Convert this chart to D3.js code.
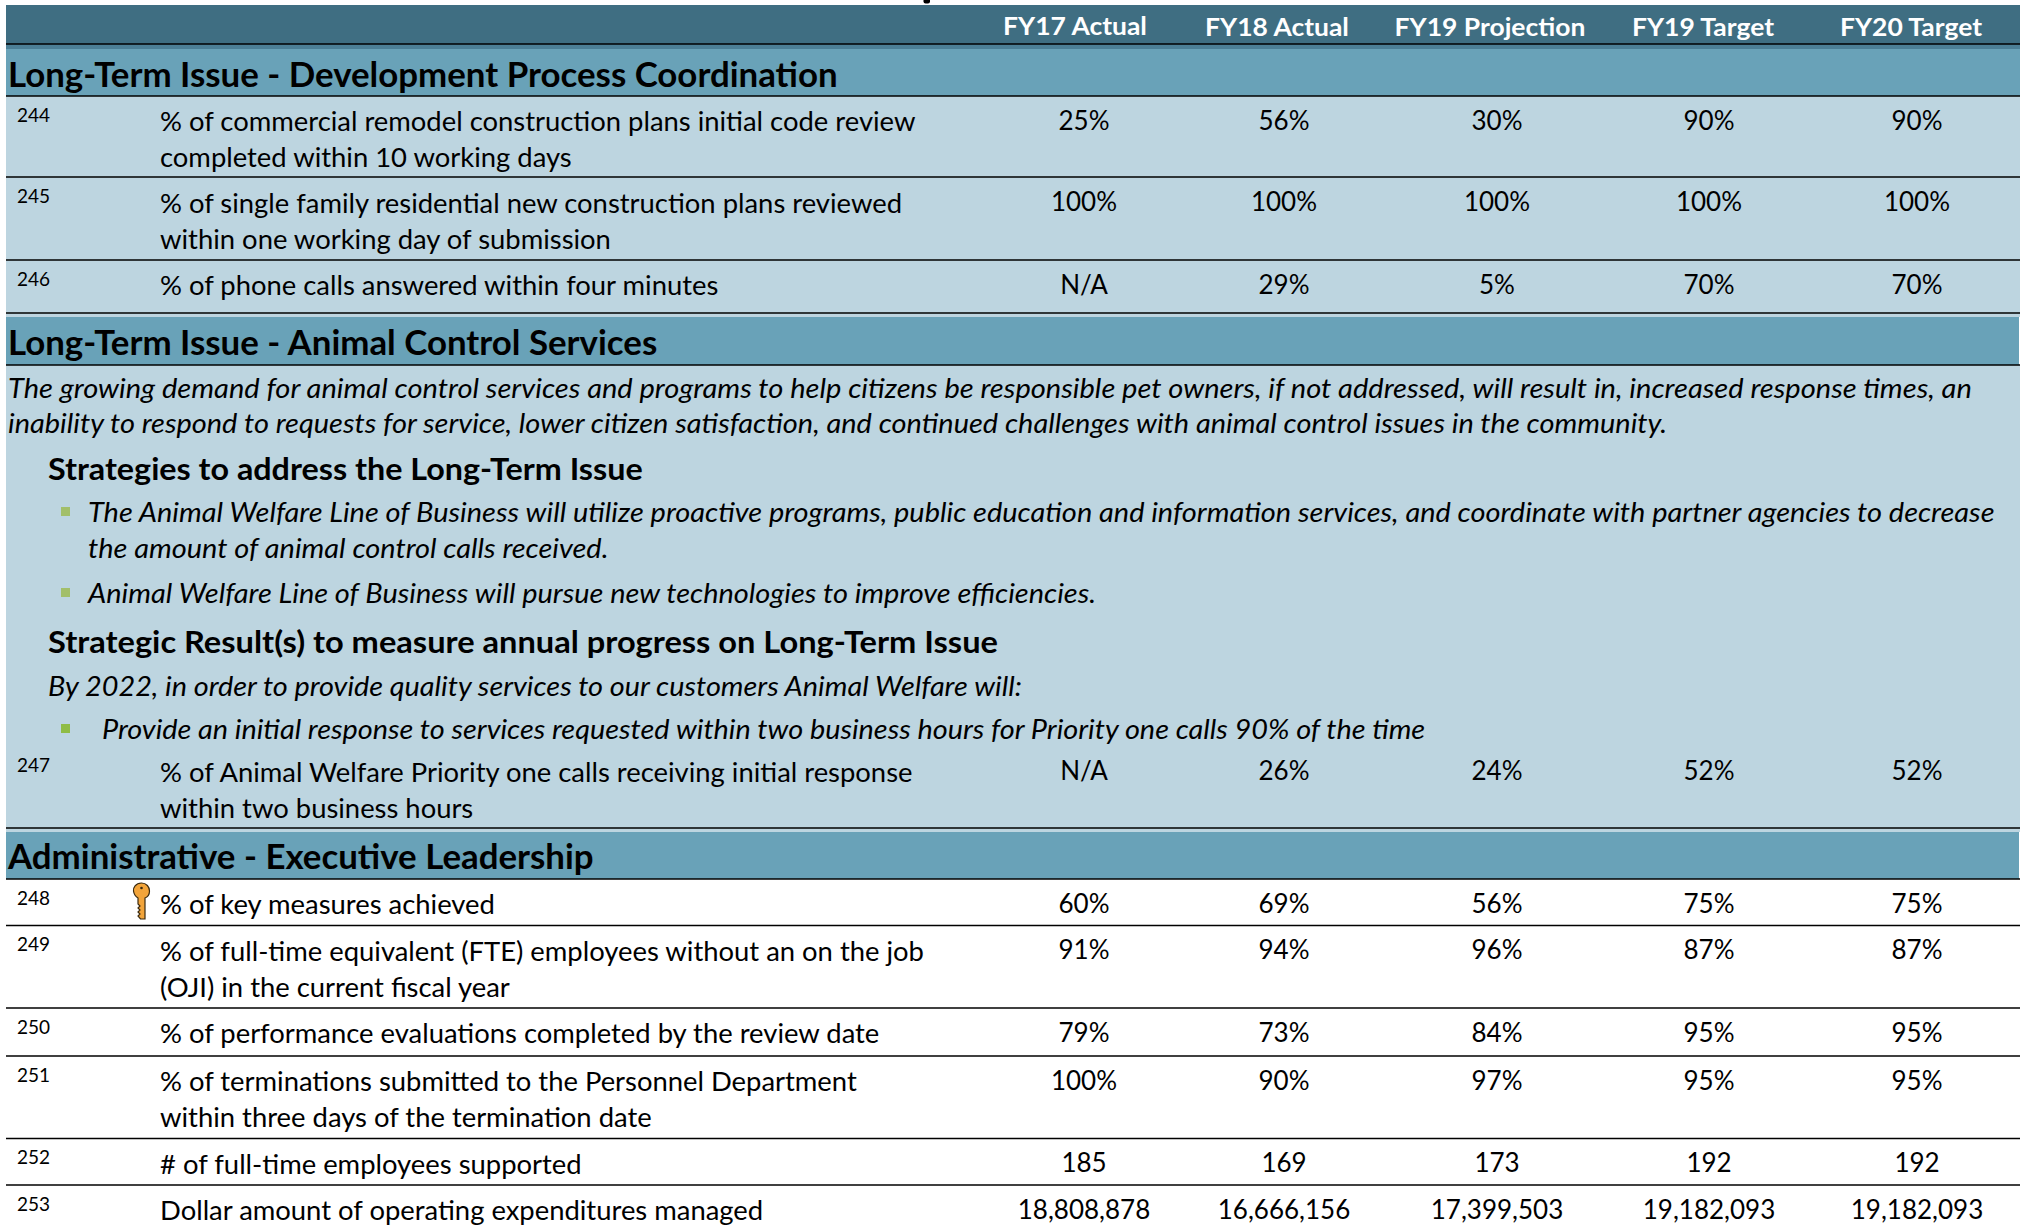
<!DOCTYPE html>
<html>
<head>
<meta charset="utf-8">
<script src="https://cdnjs.cloudflare.com/ajax/libs/d3/7.8.5/d3.min.js"></script>
<style>
  html, body { margin: 0; padding: 0; background: #fff; overflow: hidden; }
  svg { display: block; }
  text { font-family: Lato, "Open Sans", sans-serif; fill: #000; }
</style>
</head>
<body>
<svg width="2024" height="1229"></svg>
<script>
var columns = ["FY17 Actual", "FY18 Actual", "FY19 Projection", "FY19 Target", "FY20 Target"];
var sections = [
    "Long-Term Issue - Development Process Coordination",
    "Long-Term Issue - Animal Control Services",
    "Administrative - Executive Leadership"
];
var rowIds = ["244", "245", "246", "247", "248", "249", "250", "251", "252", "253"];
var rowLabels = [
    ["% of commercial remodel construction plans initial code review", "completed within 10 working days"],
    ["% of single family residential new construction plans reviewed", "within one working day of submission"],
    ["% of phone calls answered within four minutes"],
    ["% of Animal Welfare Priority one calls receiving initial response", "within two business hours"],
    ["% of key measures achieved"],
    ["% of full-time equivalent (FTE) employees without an on the job", "(OJI) in the current fiscal year"],
    ["% of performance evaluations completed by the review date"],
    ["% of terminations submitted to the Personnel Department", "within three days of the termination date"],
    ["# of full-time employees supported"],
    ["Dollar amount of operating expenditures managed"]
];
var fy17Actual = ["25%", "100%", "N/A", "N/A", "60%", "91%", "79%", "100%", "185", "18,808,878"];
var fy18Actual = ["56%", "100%", "29%", "26%", "69%", "94%", "73%", "90%", "169", "16,666,156"];
var fy19Projection = ["30%", "100%", "5%", "24%", "56%", "96%", "84%", "97%", "173", "17,399,503"];
var fy19Target = ["90%", "100%", "70%", "52%", "75%", "87%", "95%", "95%", "192", "19,182,093"];
var fy20Target = ["90%", "100%", "70%", "52%", "75%", "87%", "95%", "95%", "192", "19,182,093"];
var seriesValues = [fy17Actual, fy18Actual, fy19Projection, fy19Target, fy20Target];

var issueText = [
    "The growing demand for animal control services and programs to help citizens be responsible pet owners, if not addressed, will result in, increased response times, an",
    "inability to respond to requests for service, lower citizen satisfaction, and continued challenges with animal control issues in the community."
];
var strategiesTitle = "Strategies to address the Long-Term Issue";
var strategies = [
    "The Animal Welfare Line of Business will utilize proactive programs, public education and information services, and coordinate with partner agencies to decrease",
    "the amount of animal control calls received.",
    "Animal Welfare Line of Business will pursue new technologies to improve efficiencies."
];
var resultsTitle = "Strategic Result(s) to measure annual progress on Long-Term Issue";
var resultsIntro = "By 2022, in order to provide quality services to our customers Animal Welfare will:";
var resultsBullet = "Provide an initial response to services requested within two business hours for Priority one calls 90% of the time";

var svg = d3.select("svg");

// Layout scales
var valueX = d3.scaleOrdinal().domain(columns).range([1084, 1284, 1497, 1709, 1917]);
var headerX = d3.scaleOrdinal().domain(columns).range([1075, 1277, 1490, 1703, 1911]);
var rowTop = d3.scaleOrdinal().domain(rowIds).range([96, 177.5, 260, 746.5, 879, 925.5, 1008, 1056, 1138.5, 1185]);
var left = 6, right = 2020;

function band(y0, y1, color, x1) {
    svg.append("rect").attr("x", left).attr("y", y0).attr("width", (x1 || right) - left).attr("height", y1 - y0).attr("fill", color);
}
function rule(y) {
    svg.append("line").attr("x1", left).attr("x2", right).attr("y1", y).attr("y2", y)
       .attr("stroke", "#000").attr("stroke-width", 1.4);
}
// Calibri runs wider than Lato, so stretch each line by a factor
function stretch(sel, factor) {
    sel.attr("textLength", sel.node().getComputedTextLength() * factor)
       .attr("lengthAdjust", "spacingAndGlyphs");
    return sel;
}
function label(x, y, str, size, weight, style, factor) {
    var t = svg.append("text").attr("x", x).attr("y", y)
       .style("font-size", size + "px")
       .style("font-weight", weight || "normal")
       .style("font-style", style || "normal")
       .text(str);
    return stretch(t, factor || 1);
}

// Backgrounds
band(5, 44, "#3f6e82");
band(44, 49, "#4c7f96");
band(49, 96, "#69a2b8");
band(96, 317, "#bdd5e0");
band(317, 365, "#69a2b8", 2019);
band(365, 832, "#bdd5e0");
band(832, 879, "#69a2b8", 2019);

// Cut off page title, only a descender shows
svg.append("rect").attr("x", 923.5).attr("y", -4).attr("width", 6.5).attr("height", 7.5).attr("rx", 2).attr("fill", "#000");

// Header
svg.selectAll(".head").data(columns).enter().append("text")
   .attr("class", "head")
   .attr("x", function(d) { return headerX(d); })
   .attr("y", function(d, i) { return i == 0 ? 35 : 36; })
   .attr("text-anchor", "middle")
   .style("font-size", "25.5px").style("font-weight", "bold").style("fill", "#fff")
   .text(function(d) { return d; })
   .each(function() { stretch(d3.select(this), 1.037); });

// Section titles
[87, 355, 869].forEach(function(y, i) {
    label(8, y, sections[i], 33.5, "bold", "normal", 1.04);
});

// Rules
[44, 96, 177, 260, 313, 365, 828, 879, 925.5, 1008, 1056, 1138.5, 1185].forEach(rule);

// Animal control text block
var ITALIC = 26.5, ITALIC_STRETCH = 1.092, SUB = 30, SUB_STRETCH = 1.076;
label(8, 398, issueText[0], ITALIC, "normal", "italic", 1.096);
label(8, 432.5, issueText[1], ITALIC, "normal", "italic", ITALIC_STRETCH);
label(48, 479.5, strategiesTitle, SUB, "bold", "normal", SUB_STRETCH);
label(88, 522, strategies[0], ITALIC, "normal", "italic", ITALIC_STRETCH);
label(88, 557.5, strategies[1], ITALIC, "normal", "italic", ITALIC_STRETCH);
label(88, 602.5, strategies[2], ITALIC, "normal", "italic", ITALIC_STRETCH);
label(48, 652.5, resultsTitle, SUB, "bold", "normal", 1.086);
label(48, 695.5, resultsIntro, ITALIC, "normal", "italic", 1.088);
label(102, 738.5, resultsBullet, ITALIC, "normal", "italic", 1.088);

[[507, "#a2bf6a"], [588, "#a2bf6a"], [724, "#8fbc45"]].forEach(function(b) {
    svg.append("rect").attr("x", 61).attr("y", b[0]).attr("width", 9).attr("height", 9).attr("fill", b[1]);
});

// Rows
var rows = svg.selectAll(".row").data(rowIds).enter().append("g").attr("class", "row")
   .attr("transform", function(d) { return "translate(0," + rowTop(d) + ")"; });

rows.append("text").attr("x", 17).attr("y", 25.5)
   .style("font-size", "19px")
   .text(function(d) { return d; });

rows.each(function(d, i) {
    var g = d3.select(this);
    rowLabels[i].forEach(function(line, j) {
        var t = g.append("text").attr("x", 160).attr("y", 35.2 + j * 36)
         .style("font-size", "26.5px").text(line);
        stretch(t, 1.034);
    });
    columns.forEach(function(c, k) {
        g.append("text").attr("x", valueX(c)).attr("y", 33.5)
         .attr("text-anchor", "middle")
         .style("font-size", "26px").text(seriesValues[k][i]);
    });
});

// Key icon on row 248
var key = svg.append("g").attr("transform", "translate(141.5,901)");
key.append("path")
   .attr("d", "M0,-18 C-6,-18 -8.5,-13 -8,-10 C-7.5,-6 -5,-4 -3.5,-3 L-3.5,3 L-1.5,5 L-3.5,7 L-1.5,9 L-3.5,11 L-1.5,13 L-3.5,15 L-1,18 L3.5,18 L3.5,-3 C6,-4 8,-7 8,-10 C8,-14 5,-18 0,-18 Z")
   .attr("fill", "#f2a43a").attr("stroke", "#3a2a10").attr("stroke-width", 1.2);
key.append("circle").attr("cx", 0).attr("cy", -13).attr("r", 1.3).attr("fill", "#3a2a10");
</script>
</body>
</html>
